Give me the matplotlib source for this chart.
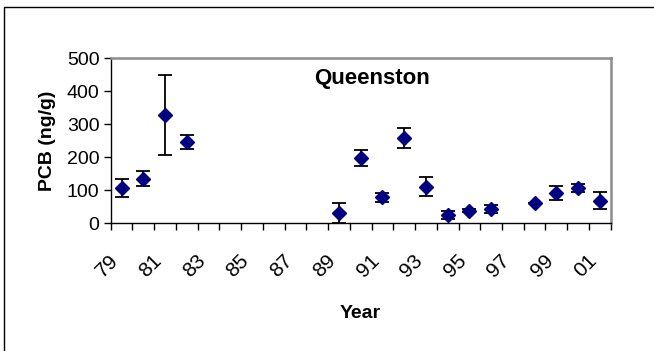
import numpy as np
import matplotlib
matplotlib.use("Agg")
import matplotlib.pyplot as plt
from matplotlib.transforms import ScaledTranslation
from matplotlib.patches import Rectangle

plt.rcParams['font.family'] = ['Liberation Sans', 'DejaVu Sans']

# category axis: one slot per year, 1979..2001
years = ['79', '80', '81', '82', '83', '84', '85', '86', '87', '88', '89', '90',
         '91', '92', '93', '94', '95', '96', '97', '98', '99', '00', '01']

# sampled years with mean PCB and +/- error
sample_years = ['79', '80', '81', '82', '89', '90', '91', '92', '93', '94',
                '95', '96', '98', '99', '00', '01']
pcb = [107, 135, 328, 246, 32, 199, 79, 259, 111, 25, 38, 44, 62, 92, 106, 69]
err = [28, 22, 120, 21, 30, 24, 14, 31, 28, 12, 5, 12, 0, 22, 12, 25]

title = 'Queenston'
ylab = 'PCB (ng/g)'
xlab = 'Year'

fig = plt.figure(figsize=(6.54, 3.51), dpi=100)
ax = fig.add_axes([0.1693, 0.3638, 0.7645, 0.4701])

# chart frame
fig.patches.append(Rectangle((4/654, -0.1), 1.2, 1 - 7/351 + 0.1, transform=fig.transFigure,
                             fill=False, edgecolor='black', linewidth=1.0))

xpos = [years.index(y) for y in sample_years]
ax.errorbar(xpos, pcb, yerr=err, fmt='none', ecolor='black', elinewidth=1.3,
            capsize=5, capthick=1.3, zorder=2)
ax.plot(xpos, pcb, linestyle='none', marker='D', markersize=7,
        color='#000080', zorder=3)

ax.set_xlim(-0.5, len(years) - 0.5)
ax.set_ylim(0, 500)
ax.set_yticks(np.arange(0, 501, 100))

# ticks at category boundaries, labels on every other category
ax.set_xticks(np.arange(-0.5, len(years), 1.0))
ax.set_xticklabels([])
ax.set_xticks(np.arange(0, len(years), 2), minor=True)
ax.set_xticklabels(years[::2], minor=True, rotation=45, ha='right', va='center',
                   rotation_mode='anchor', fontsize=15)
ax.tick_params(axis='x', which='minor', length=0, pad=25)
ax.tick_params(axis='x', which='major', direction='out', length=5, width=1)
ax.tick_params(axis='y', direction='out', length=5, width=1, labelsize=14, pad=3)
for lab in ax.get_xticklabels(minor=True):
    lab.set_transform(lab.get_transform() + ScaledTranslation(-0.06, 0, fig.dpi_scale_trans))

for s in ['left', 'bottom']:
    ax.spines[s].set_color('black')
    ax.spines[s].set_linewidth(1.0)
for s in ['top', 'right']:
    ax.spines[s].set_color('#8c8c8c')
    ax.spines[s].set_linewidth(1.8)

ax.text(0.5216, 0.842, title, transform=ax.transAxes, ha='center', va='baseline',
        fontsize=16, fontweight='bold')
ax.set_ylabel(ylab, fontsize=14, fontweight='bold', labelpad=8)
ax.set_xlabel(xlab, fontsize=14, fontweight='bold', va='center')
ax.xaxis.set_label_coords(0.5, -0.547)

fig.savefig('out.png', dpi=100)
